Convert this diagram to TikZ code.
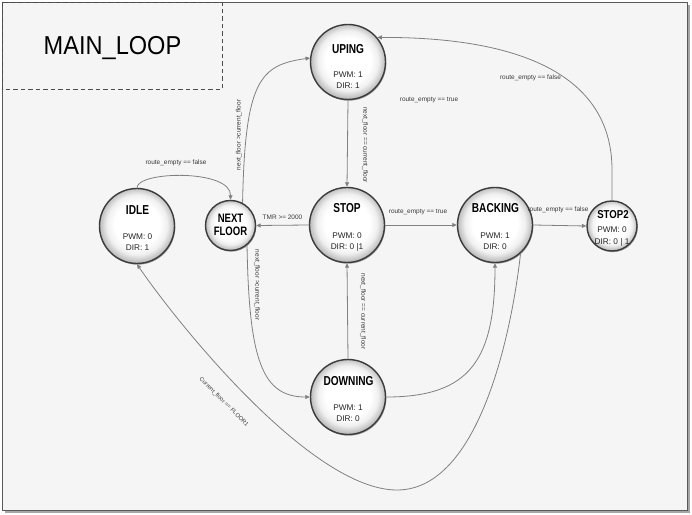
\documentclass[tikz,border=0pt]{standalone}
\usepackage{fontspec}
\setmainfont{Liberation Sans}
\usetikzlibrary{arrows.meta,shadows}
\pgfdeclareradialshading{stateshade}{\pgfpoint{0bp}{1.5bp}}{color(0bp)=(white); color(15bp)=(white); color(20bp)=(gray!12); color(24bp)=(gray!45); color(27bp)=(gray!70); color(50bp)=(gray!70)}
\definecolor{bg}{HTML}{F5F5F5}
\definecolor{edgec}{HTML}{808080}
\definecolor{rim}{HTML}{3C3C3C}
\definecolor{lab}{HTML}{3A3A3A}
\newcommand\sttitle[1]{\scalebox{0.78}[1]{\bfseries #1}}
\begin{document}
\begin{tikzpicture}[x=1bp,y=-1bp,
 state/.style={circle, draw=rim, line width=1.4bp, shading=stateshade, minimum size=75bp, inner sep=0pt,
   drop shadow={shadow xshift=0.8bp, shadow yshift=-1.2bp, opacity=0.35, fill=black}},
 smallstate/.style={state, minimum size=50bp},
 ttl/.style={anchor=base, inner sep=0pt, font=\fontsize{13}{13}\selectfont},
 info/.style={anchor=base, inner sep=0pt, font=\fontsize{8.3}{9}\selectfont, text=black!85},
 lbl/.style={inner sep=0pt, font=\fontsize{6.5}{7}\selectfont, text=lab, text height=4.7bp, text depth=1.3bp},
 arr/.style={draw=edgec, line width=0.8bp, -{Triangle[length=4.5bp,width=4bp]}}
]
\useasboundingbox (0,0) rectangle (692,515);
% frame
\fill[black, opacity=0.35] (4.5,5) rectangle (690,513);
\draw[fill=bg, draw=black!65, line width=1.5bp] (2.5,2.5) rectangle (687.5,510.5);
\draw[dash pattern=on 4.5bp off 3bp, draw=black!70, line width=1bp] (2.5,2.5) rectangle (222,89.5);
\node[anchor=base, inner sep=0pt] (maintitle) at (112.5,55) {\fontsize{26}{26}\selectfont\scalebox{0.91}[1]{MAIN\_LOOP}};

% states
\node[state] (uping) at (348,62) {};
\node[state] (stop) at (347,225) {};
\node[state] (backing) at (495,225) {};
\node[smallstate] (stoptwo) at (612,226) {};
\node[state] (idle) at (137,226) {};
\node[smallstate] (next) at (230.5,225.5) {};
\node[state] (downing) at (348,397) {};

% state texts
\node[ttl] (upingT) at (348,53.3) {\sttitle{UPING}};
\node[info] (upingP) at (348,77.7) {PWM: 1};
\node[info] (upingD) at (348,88.7) {DIR: 1};

\node[ttl] (stopT) at (347,212.3) {\sttitle{STOP}};
\node[info] (stopP) at (347,238.7) {PWM: 0};
\node[info] (stopD) at (347,250) {DIR: 0 |1};

\node[ttl] (idleT) at (137.5,214.7) {\sttitle{IDLE}};
\node[info] (idleP) at (137.5,240) {PWM: 0};
\node[info] (idleD) at (137.5,251) {DIR: 1};

\node[ttl] (backingT) at (495.5,212.3) {\sttitle{BACKING}};
\node[info] (backingP) at (495,238.7) {PWM: 1};
\node[info] (backingD) at (495,250) {DIR: 0};

\node[ttl] (downingT) at (348.5,385) {\sttitle{DOWNING}};
\node[info] (downingP) at (348,410.3) {PWM: 1};
\node[info] (downingD) at (348,421.7) {DIR: 0};

\node[ttl, font=\fontsize{11.5}{12}\selectfont] (stoptwoT) at (613,218.3) {\scalebox{0.84}[1]{\bfseries STOP2}};
\node[info] (stoptwoP) at (612,232.7) {PWM: 0};
\node[info] (stoptwoD) at (612,245) {DIR: 0 | 1};

\node[ttl, font=\fontsize{12.3}{12}\selectfont] (nextA) at (230.5,222.7) {\sttitle{NEXT}};
\node[ttl, font=\fontsize{12.3}{12}\selectfont] (nextB) at (230.5,235.2) {\sttitle{FLOOR}};

% connectors
\draw[arr] (idle.90) .. controls (137,171) and (231,169) .. (next.90);
\draw[arr] (next.62) .. controls (245,80) and (260,65) .. (uping.174);
\draw[arr] (uping.south) -- (stop.north);
\draw[arr] (stop.west) -- (next.east);
\draw[arr] (next.-50) .. controls (249,360) and (262,397) .. (downing.west);
\draw[arr] (downing.north) -- (stop.south);
\draw[arr] (stop.east) -- (backing.west);
\draw[arr] (backing.east) -- (stoptwo.west);
\draw[arr] (stoptwo.north) -- (612,170) .. controls (612,75) and (520,37) .. (uping.40);
\draw[arr] (downing.east) .. controls (470,397) and (495,360) .. (backing.south);
\draw[arr] (backing.-48) .. controls (512,330) and (480,490) .. (397,490)
   .. controls (310,490) and (175,320) .. (idle.south);

% labels
\node[lbl] (l1) at (176,163) {route\_empty == false};
\node[lbl, rotate=90] (l2) at (239,135) {next\_floor >current\_floor};
\node[lbl, rotate=-90] (l3) at (365,145) {next\_floor == current\_floor};
\node[lbl] (l4) at (282.5,218) {TMR >= 2000};
\node[lbl, rotate=-90] (l5) at (257,285) {next\_floor >current\_floor};
\node[lbl, rotate=-90] (l6) at (363,311.5) {next\_floor == current\_floor};
\node[lbl] (l7) at (418,212) {route\_empty == true};
\node[lbl] (l8) at (429,100) {route\_empty == true};
\node[lbl] (l9) at (558,210) {route\_empty == false};
\node[lbl] (l10) at (530.5,77.7) {route\_empty == false};
\node[lbl, rotate=-45, font=\fontsize{5.8}{6}\selectfont] (l11) at (224,402) {Current\_floor == FLOOR1};
\end{tikzpicture}
\end{document}
